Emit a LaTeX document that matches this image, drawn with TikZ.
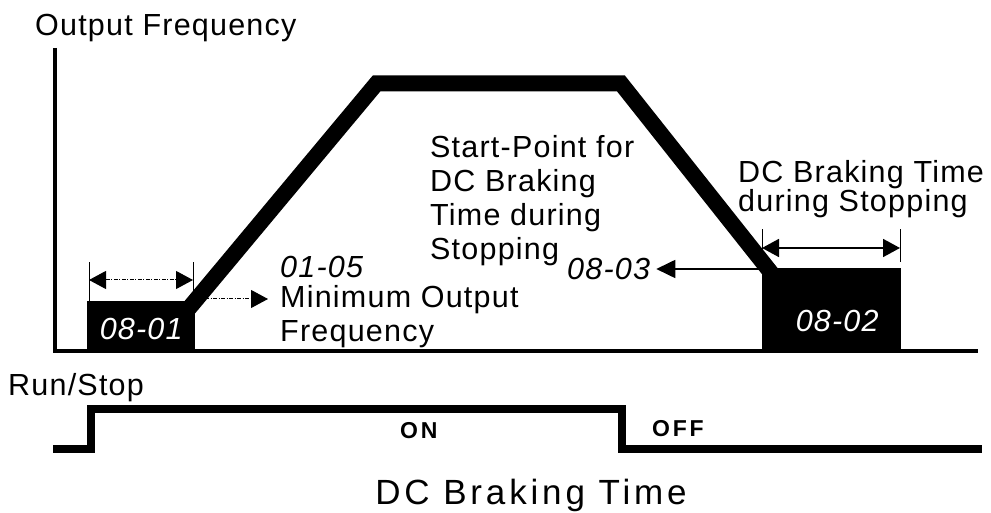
\documentclass[tikz,border=0pt]{standalone}
\usepackage{fontspec}
\setmainfont{Liberation Sans}[LetterSpace=4]
\usetikzlibrary{positioning,arrows.meta}

\begin{document}
\begin{tikzpicture}[
  x=1pt, y=1pt,
  every node/.style={font=\fontsize{30.5}{34}\selectfont, inner sep=0pt},
  lbl/.style={anchor=base west, align=left},
  num/.style={font=\fontsize{30.5}{34}\selectfont\itshape},
  onoff/.style={anchor=base west, font=\fontsize{23}{26}\selectfont\bfseries\addfontfeature{LetterSpace=12}},
  blk/.style={fill=black, draw=none, anchor=south west},
  curve/.style={line width=16pt, line join=miter},
  axis/.style={line width=3.5pt, line join=miter},
  sig/.style={line width=7.5pt, line join=miter},
  tick/.style={line width=1pt},
  dimdot/.style={arrows={Triangle[length=17pt,width=18pt]-Triangle[length=17pt,width=18pt]}, line width=1pt, dash pattern=on 4pt off 1.5pt on 1pt off 1.5pt},
  dimarr/.style={arrows={Triangle[length=17pt,width=18pt]-Triangle[length=17pt,width=18pt]}, line width=1.8pt},
  dotarr/.style={-{Triangle[length=17pt,width=18pt]}, line width=1pt, dash pattern=on 4pt off 1.5pt on 1pt off 1.5pt},
  arr/.style={-{Triangle[length=19pt,width=18pt]}, line width=1.8pt}
]
\useasboundingbox (0,0) rectangle (991,513);

% Axes
\coordinate (o) at (55,162);
\coordinate (ytop) at (55,465);
\coordinate (xend) at (978,162);
\draw[axis] (ytop) -- (o) -- (xend);

% Output frequency curve
\coordinate (c0) at (187.5,203);
\coordinate (c1) at (376.5,429.5);
\coordinate (c2) at (621,429.5);
\coordinate (c3) at (780.8,228);
\draw[curve] (c0) -- (c1) -- (c2) -- (c3);

% DC braking blocks
\node[blk, minimum width=108pt, minimum height=50pt] (b1) at (87,162) {};
\node[blk, minimum width=139pt, minimum height=83pt] (b2) at (762,162) {};
\node[num, text=white] (n01) at ([yshift=-3pt]b1.center) {08-01};
\node[num, text=white] (n02) at ([shift={(5.5pt,-11.5pt)}]b2.center) {08-02};

% Dimension 08-01 (dotted)
\draw[tick] (89,212) -- (89,251);
\draw[tick] (193,212) -- (193,251);
\coordinate (d1l) at (89,233);
\coordinate (d1r) at (193,233);
\draw[dimdot] (d1l) -- (d1r);

% Dimension 08-02
\draw[tick] (762,251) -- (762,284);
\draw[tick] (900,251) -- (900,284);
\coordinate (d2l) at (762,265);
\coordinate (d2r) at (900,265);
\draw[dimarr] (d2l) -- (d2r);

% Labels (base = last line)
\node[lbl] (yl) at (35,477) {Output Frequency};
\node[lbl, num] (n0105) at (280,235) {01-05};
\node[lbl] (minf) at (280,171) {Minimum Output\\Frequency};
\node[lbl] (spt) at (430,253) {Start-Point for\\DC Braking\\Time during\\Stopping};
\node[lbl, num] (n03) at (567,233) {08-03};
\node[lbl, font=\fontsize{30.5}{29}\selectfont] (dct) at (738,301) {DC Braking Time\\during Stopping};

% Arrows to labels
\coordinate (fmin) at (205,214);
\coordinate (fmintip) at (268,214);
\draw[dotarr] (fmin) -- (fmintip);
\coordinate (sp) at (760,244);
\draw[arr] (sp) -- ([xshift=6pt]n03.east |- sp);

% Run/Stop signal
\node[lbl] (rs) at (8,117) {Run/Stop};
\coordinate (s0) at (53,64);
\coordinate (s1) at (91,64);
\coordinate (s2) at (91,104);
\coordinate (s3) at (622,104);
\coordinate (s4) at (622,64);
\coordinate (s5) at (982,64);
\draw[sig] (s0) -- (s1) -- (s2) -- (s3) -- (s4) -- (s5);
\node[onoff] (on) at (400,74) {ON};
\node[onoff] (off) at (652,76) {OFF};

% Title
\node[anchor=base, font=\fontsize{35}{40}\selectfont\addfontfeature{LetterSpace=11}] (title) at (531,8) {DC Braking Time};
\end{tikzpicture}
\end{document}
